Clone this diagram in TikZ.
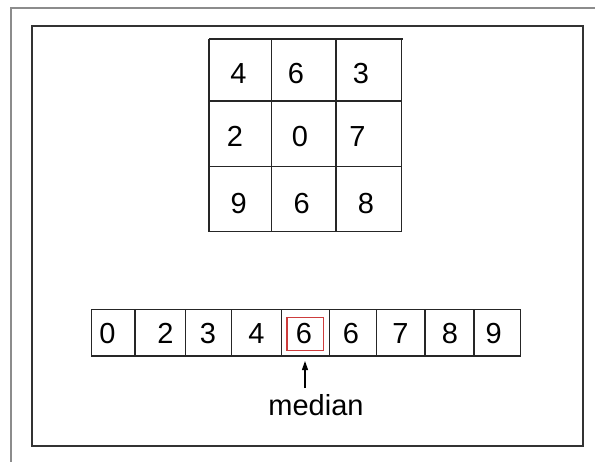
\documentclass[tikz,border=0pt]{standalone}
\usepackage{fontspec}
\setmainfont{Liberation Sans}
\usetikzlibrary{arrows.meta}
\definecolor{pickred}{RGB}{205,60,60}
\begin{document}
\begin{tikzpicture}[x=1pt,y=-1pt,
  frameline/.style={draw=black!45, line width=1.4pt},
  boxline/.style={draw=black!80, line width=2pt},
  gridline/.style={draw=black!85, line width=1.3pt},
  digit/.style={inner sep=0pt, anchor=base, font=\fontsize{29}{32}\selectfont},
  pick/.style={draw=pickred, line width=1.2pt},
  pointer/.style={draw=black, line width=1.2pt, -{Triangle[length=9pt,width=6pt]}}]
\useasboundingbox (0,0) rectangle (595,461);
\fill[white] (0,0) rectangle (595,461);

% outer frame, running off the page to the right and bottom
\draw[frameline] (11,470) -- (11,8) -- (600,8);
% inner box
\draw[boxline] (32,26) rectangle (583,446);

% 3x3 neighbourhood
\draw[gridline] (209,39) -- (403,39);
\draw[gridline] (209,39) -- (209,231.5) -- (401.7,231.5) -- (401.7,39);
\draw[gridline] (209,101) -- (401.7,101);
\draw[gridline] (209,166.7) -- (401.7,166.7);
\draw[gridline] (271.7,39) -- (271.7,231.5);
\draw[gridline] (336,39) -- (336,231.5);

% digits placed on their baselines
\node[digit] (g11) at (238.5,83.4) {4};
\node[digit] (g12) at (296,83.4) {6};
\node[digit] (g13) at (361,83.4) {3};
\node[digit] (g21) at (235,146.4) {2};
\node[digit] (g22) at (300,146.4) {0};
\node[digit] (g23) at (357.5,146.4) {7};
\node[digit] (g31) at (238.7,213.4) {9};
\node[digit] (g32) at (301.7,213.4) {6};
\node[digit] (g33) at (366,213.4) {8};

% sorted values
\draw[gridline] (91.5,309.5) rectangle (520.7,356);
\foreach \xx in {135,185.7,231.7,281.7,329.3,376.7,425,474}
  \draw[gridline] (\xx,309.5) -- (\xx,356);

\node[digit] (s1) at (107.5,343.5) {0};
\node[digit] (s2) at (165.5,343.5) {2};
\node[digit] (s3) at (208,343.5) {3};
\node[digit] (s4) at (256.5,343.5) {4};
\node[digit] (s5) at (304,343.5) {6};
\node[digit] (s6) at (351,343.5) {6};
\node[digit] (s7) at (400.5,343.5) {7};
\node[digit] (s8) at (450,343.5) {8};
\node[digit] (s9) at (493.7,343.5) {9};

% highlight of the middle value
\draw[pick] (287,317.3) rectangle (323.3,350.5);

% label and pointer
\node[digit] (med) at (316,415) {median};
\coordinate (tail) at (305,388);
\coordinate (tip) at (305,361);
\draw[pointer] (tail) -- (tip);
\end{tikzpicture}
\end{document}
